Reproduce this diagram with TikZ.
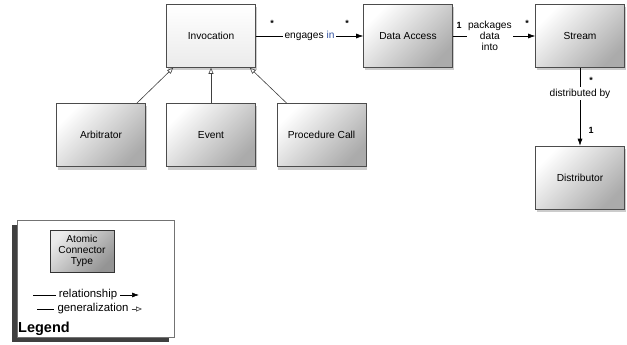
\documentclass[tikz,border=0pt]{standalone}
\usepackage{fontspec}
\setmainfont{Liberation Sans}
\usetikzlibrary{arrows.meta,shadows}
\definecolor{inblue}{HTML}{2F4F9F}
\begin{document}
\begin{tikzpicture}[x=1pt,y=-1pt,
  font=\fontsize{10.2}{11}\selectfont,
  box/.style={draw=black!70, line width=0.6pt, minimum width=89pt, minimum height=63pt,
    top color=white, bottom color=black!33, shading angle=45,
    drop shadow={shadow xshift=1pt, shadow yshift=-3pt, opacity=0.4}},
  lightbox/.style={box, bottom color=black!8},
  rel/.style={line width=0.6pt, -{Latex[length=7pt,width=5pt]}},
  gen/.style={line width=0.6pt, black!75, -{Triangle[open,length=6pt,width=5pt,fill=white]}},
  plain/.style={line width=0.6pt},
  lab/.style={fill=white, inner sep=1.5pt},
  mult/.style={font=\fontsize{9}{10}\bfseries, inner sep=0pt},
  legtext/.style={inner sep=3pt, font=\fontsize{11.4}{12}\selectfont}
]
\useasboundingbox (0,0) rectangle (627,345);

% main boxes
\node[lightbox] (inv) at (211,36) {Invocation};
\node[box] (da) at (408,36) {Data Access};
\node[box] (st) at (580,36) {Stream};
\node[box] (arb) at (101,135) {Arbitrator};
\node[box] (ev) at (211,135) {Event};
\node[box] (pc) at (321.5,135) {Procedure Call};
\node[box] (dist) at (580,177.5) {Distributor};

% relationships
\draw[rel] (inv) -- node[lab] (l1) {engages \textcolor{inblue}{in}} (da);
\draw[rel] (da) -- node[lab, align=center, pos=0.45] (l2) {packages\\data\\into} (st);
\draw[rel] (st) -- node[lab, pos=0.33] (l3) {distributed by} (dist);

% multiplicities
\node[mult] (m1) at (272,23) {*};
\node[mult] (m2) at (347,23) {*};
\node[mult] (m3) at (459,25) {1};
\node[mult] (m4) at (527,23) {*};
\node[mult] (m5) at (591,80) {*};
\node[mult] (m6) at (591,130) {1};

% generalizations
\draw[gen] ([xshift=-9pt]arb.north east) -- ([xshift=7pt]inv.south west);
\draw[gen] (ev) -- (inv);
\draw[gen] ([xshift=10pt]pc.north west) -- ([xshift=-6pt]inv.south east);

% legend
\node[draw=black!55, line width=0.5pt, fill=white, minimum width=157pt, minimum height=117pt,
  drop shadow={shadow xshift=-5pt, shadow yshift=-5pt, fill=black!75, opacity=1}] (leg) at (95.5,278.5) {};
\node[draw=black!80, line width=0.6pt, minimum width=64pt, minimum height=42pt,
  top color=black!8, bottom color=black!42, shading angle=45,
  align=center] (act) at (82,251) {Atomic\\Connector\\Type};
\node[legtext] (rt) at (88,295) {relationship};
\coordinate (r1) at (33,295);
\coordinate (r2) at (139,295);
\draw[plain] (r1) -- (rt.west);
\draw[rel] (rt.east) -- (r2);
\node[legtext] (gt) at (93,309) {generalization};
\coordinate (g1) at (37,309);
\coordinate (g2) at (142,309);
\draw[plain] (g1) -- (gt.west);
\draw[gen] (gt.east) -- (g2);
\node[anchor=west, inner sep=0pt, font=\fontsize{14.5}{15}\bfseries] (lt) at (18,329) {Legend};
\end{tikzpicture}
\end{document}
